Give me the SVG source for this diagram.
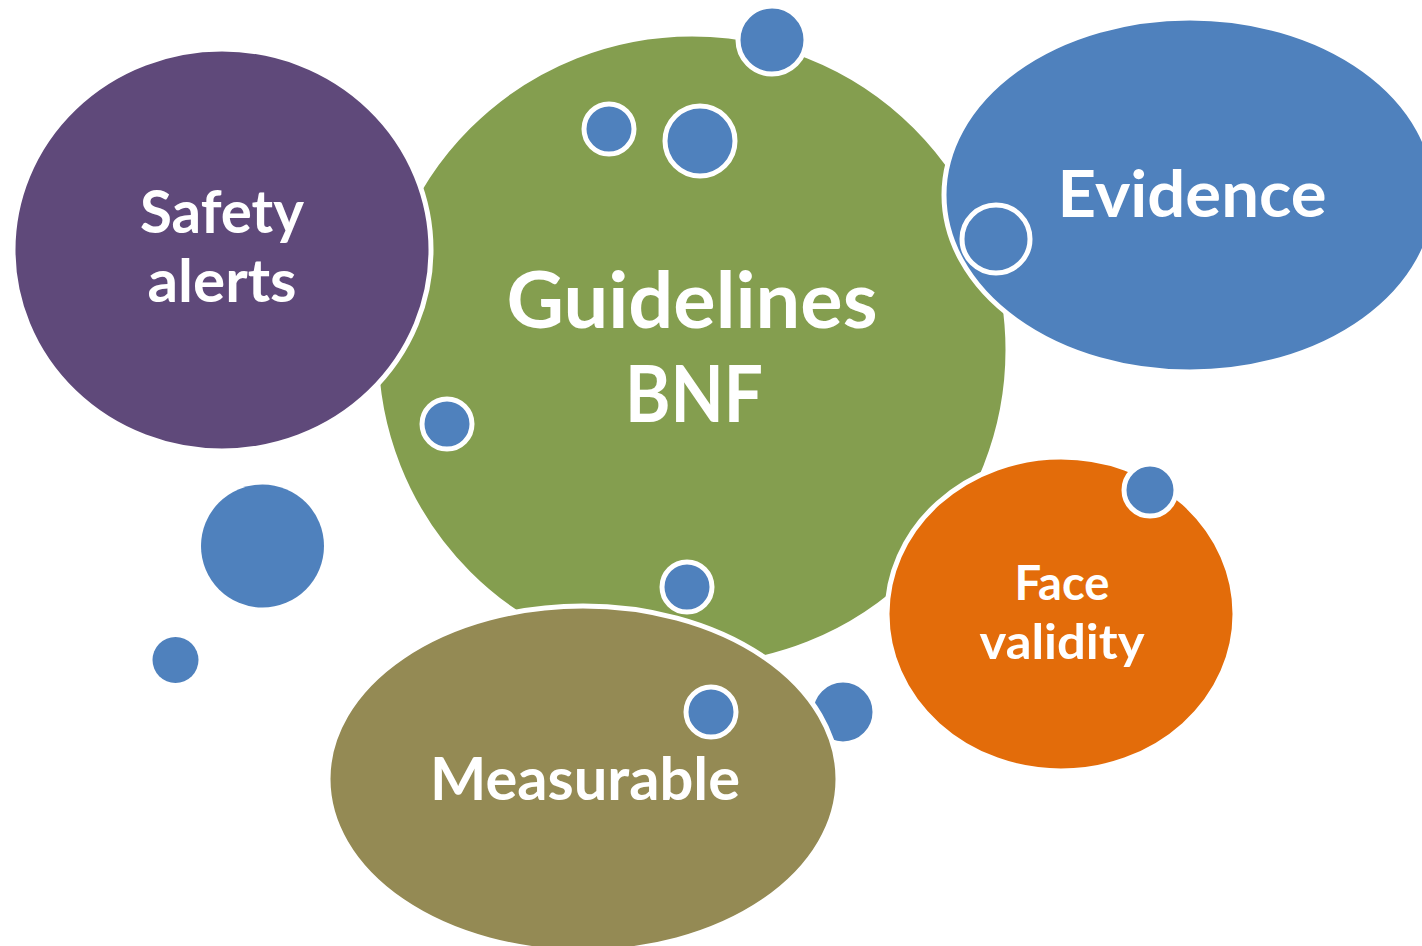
<svg xmlns="http://www.w3.org/2000/svg" width="1422" height="946" viewBox="0 0 1422 946">
  <style>
    .big { stroke: #ffffff; stroke-width: 5; }
    .dot { fill: #4F81BD; stroke: #ffffff; stroke-width: 5; }
    .lbl { font-family: Lato, "Open Sans", "Liberation Sans", sans-serif; font-weight: bold; fill: #ffffff; text-anchor: middle; }
  </style>
  <rect width="1422" height="946" fill="#ffffff"/>

  <!-- central bubble -->
  <g id="node-guidelines">
    <circle class="big" cx="692" cy="350" r="316" fill="#849E4F"/>
  </g>

  <!-- bubbles partly covered by the outer nodes -->
  <g id="bubble-top">
    <circle class="dot" cx="772" cy="40" r="34"/>
  </g>
  <g id="bubble-lower-right">
    <circle class="dot" cx="843" cy="712" r="32"/>
  </g>

  <g id="node-safety">
    <ellipse class="big" cx="222" cy="250" rx="209" ry="201" fill="#5F497A"/>
  </g>
  <g id="node-evidence">
    <ellipse class="big" cx="1190" cy="195" rx="246" ry="177" fill="#4F81BD"/>
  </g>
  <g id="node-face">
    <ellipse class="big" cx="1061" cy="614" rx="174" ry="157" fill="#E36C0A"/>
  </g>
  <g id="node-measurable">
    <ellipse class="big" cx="583" cy="779" rx="255" ry="173" fill="#948A54"/>
  </g>

  <!-- small decorative bubbles -->
  <g id="bubbles">
    <circle class="dot" cx="609" cy="129" r="25"/>
    <circle class="dot" cx="700" cy="141" r="35"/>
    <circle class="dot" cx="447" cy="424" r="25"/>
    <circle class="dot" cx="996" cy="239" r="34"/>
    <circle class="dot" cx="687" cy="587" r="25"/>
    <circle class="dot" cx="711" cy="712" r="25"/>
    <circle class="dot" cx="1150" cy="490" r="26"/>
    <circle cx="262.5" cy="546" r="61.5" fill="#4F81BD"/>
    <circle cx="175.5" cy="660" r="23" fill="#4F81BD"/>
  </g>

  <!-- labels -->
  <g id="labels">
    <text class="lbl" x="692" y="328" font-size="78" textLength="371" lengthAdjust="spacingAndGlyphs">Guidelines</text>
    <text class="lbl" x="694" y="422" font-size="78" textLength="138" lengthAdjust="spacingAndGlyphs">BNF</text>
    <text class="lbl" x="222" y="233" font-size="60" textLength="164" lengthAdjust="spacingAndGlyphs">Safety</text>
    <text class="lbl" x="222" y="302" font-size="60" textLength="149" lengthAdjust="spacingAndGlyphs">alerts</text>
    <text class="lbl" x="1192" y="217" font-size="65" textLength="269" lengthAdjust="spacingAndGlyphs">Evidence</text>
    <text class="lbl" x="1062" y="600" font-size="48" textLength="95" lengthAdjust="spacingAndGlyphs">Face</text>
    <text class="lbl" x="1062" y="659" font-size="48" textLength="165" lengthAdjust="spacingAndGlyphs">validity</text>
    <text class="lbl" x="585" y="800" font-size="60" textLength="310" lengthAdjust="spacingAndGlyphs">Measurable</text>
  </g>
</svg>
